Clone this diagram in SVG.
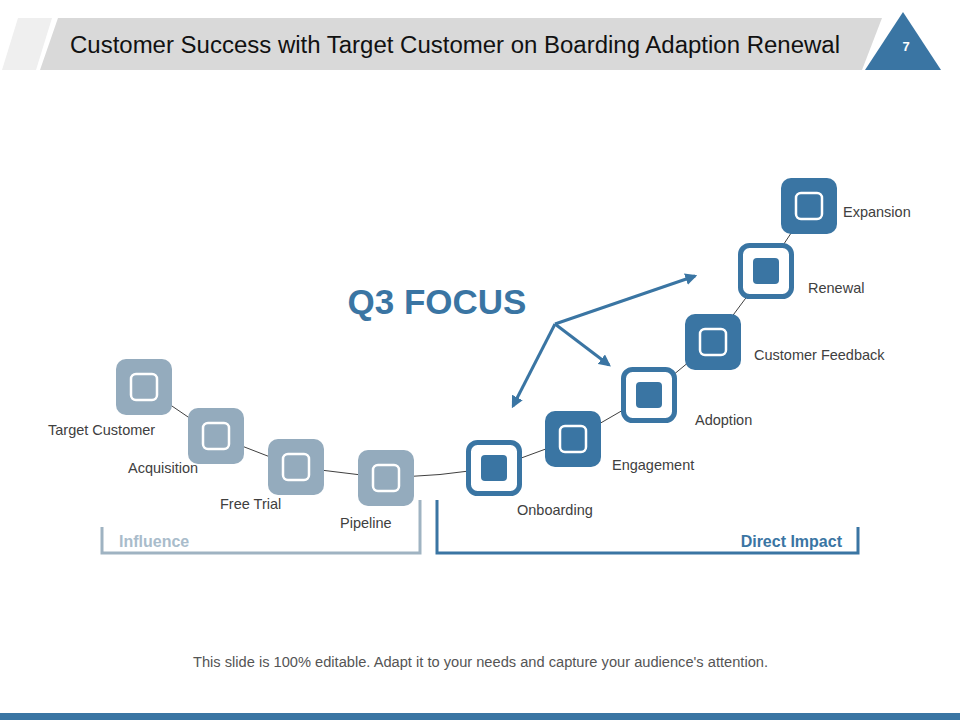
<svg xmlns="http://www.w3.org/2000/svg" width="960" height="720" viewBox="0 0 960 720">
<style>
  .lbl{font-family:"Liberation Sans",Arial,sans-serif;font-size:14.5px;fill:#404040}
  .gray{fill:#94abbd}
  .blue{fill:#3a75a3}
  .inW{fill:none;stroke:#ffffff;stroke-width:2.5}
  .ring{fill:#ffffff;stroke:#3a75a3;stroke-width:5}
  .link{fill:none;stroke:#404040;stroke-width:1}
  .arr{fill:none;stroke:#3a75a3;stroke-width:3}
</style>
<defs>
  <marker id="ah" viewBox="0 0 10 10" refX="8" refY="5" markerWidth="4" markerHeight="4" orient="auto" markerUnits="strokeWidth">
    <path d="M0,0 L10,5 L0,10 z" fill="#3a75a3"/>
  </marker>
</defs>
<rect width="960" height="720" fill="#ffffff"/>
<!-- header -->
<polygon points="18,18 52,18 36,70 2,70" fill="#efefef"/>
<polygon points="58,18 882,18 862,70 40,70" fill="#d9d9d9"/>
<text x="70" y="53" textLength="770" lengthAdjust="spacingAndGlyphs" font-family="'Liberation Sans',Arial,sans-serif" font-size="23.5" fill="#111111">Customer Success with Target Customer on Boarding Adaption Renewal</text>
<polygon points="903,12 941,70 865,70" fill="#3a75a3"/>
<text x="906" y="51" text-anchor="middle" font-family="'Liberation Sans',Arial,sans-serif" font-size="13" font-weight="bold" fill="#ffffff">7</text>

<!-- connectors -->
<g id="connectors">
  <path class="link" d="M144,387 L216,436 L296,467 L386,478 Q440,476 494,468 L573,439 L649,395 L713,342 L766,271 L809,206"/>
  <path class="arr" d="M555,324 L695,276" marker-end="url(#ah)"/>
  <path class="arr" d="M555,324 L609,365" marker-end="url(#ah)"/>
  <path class="arr" d="M555,324 L513,406" marker-end="url(#ah)"/>
</g>

<text x="437" y="314" text-anchor="middle" font-family="'Liberation Sans',Arial,sans-serif" font-size="35" font-weight="bold" fill="#3a75a3">Q3 FOCUS</text>

<g id="n-target">
  <rect class="gray" x="116" y="359" width="56" height="56" rx="10"/>
  <rect class="inW" x="131" y="374" width="26" height="26" rx="5"/>
  <text class="lbl" x="48" y="435">Target Customer</text>
</g>
<g id="n-acquisition">
  <rect class="gray" x="188" y="408" width="56" height="56" rx="10"/>
  <rect class="inW" x="203" y="423" width="26" height="26" rx="5"/>
  <text class="lbl" x="128" y="473">Acquisition</text>
</g>
<g id="n-freetrial">
  <rect class="gray" x="268" y="439" width="56" height="56" rx="10"/>
  <rect class="inW" x="283" y="454" width="26" height="26" rx="5"/>
  <text class="lbl" x="220" y="509">Free Trial</text>
</g>
<g id="n-pipeline">
  <rect class="gray" x="358" y="450" width="56" height="56" rx="10"/>
  <rect class="inW" x="373" y="465" width="26" height="26" rx="5"/>
  <text class="lbl" x="340" y="528">Pipeline</text>
</g>
<g id="n-onboarding">
  <rect class="ring" x="468.5" y="442.5" width="51" height="51" rx="9"/>
  <rect class="blue" x="481" y="455" width="26" height="26" rx="4"/>
  <text class="lbl" x="517" y="515">Onboarding</text>
</g>
<g id="n-engagement">
  <rect class="blue" x="545" y="411" width="56" height="56" rx="10"/>
  <rect class="inW" x="560" y="426" width="26" height="26" rx="5"/>
  <text class="lbl" x="612" y="470">Engagement</text>
</g>
<g id="n-adoption">
  <rect class="ring" x="623.5" y="369.5" width="51" height="51" rx="9"/>
  <rect class="blue" x="636" y="382" width="26" height="26" rx="4"/>
  <text class="lbl" x="695" y="425">Adoption</text>
</g>
<g id="n-feedback">
  <rect class="blue" x="685" y="314" width="56" height="56" rx="10"/>
  <rect class="inW" x="700" y="329" width="26" height="26" rx="5"/>
  <text class="lbl" x="754" y="360">Customer Feedback</text>
</g>
<g id="n-renewal">
  <rect class="ring" x="740.5" y="245.5" width="51" height="51" rx="9"/>
  <rect class="blue" x="753" y="258" width="26" height="26" rx="4"/>
  <text class="lbl" x="808" y="293">Renewal</text>
</g>
<g id="n-expansion">
  <rect class="blue" x="781" y="178" width="56" height="56" rx="10"/>
  <rect class="inW" x="796" y="193" width="26" height="26" rx="5"/>
  <text class="lbl" x="843" y="217">Expansion</text>
</g>

<!-- brackets -->
<g id="influence">
  <path d="M102,527 L102,553 L420,553 L420,500" fill="none" stroke="#9fb3c2" stroke-width="3"/>
  <text x="119" y="547" font-family="'Liberation Sans',Arial,sans-serif" font-size="16" font-weight="bold" fill="#a9bccb">Influence</text>
</g>
<g id="direct-impact">
  <path d="M437,500 L437,553 L858,553 L858,527" fill="none" stroke="#3a75a3" stroke-width="3"/>
  <text x="842" y="547" text-anchor="end" font-family="'Liberation Sans',Arial,sans-serif" font-size="16" font-weight="bold" fill="#3a75a3">Direct Impact</text>
</g>

<text x="193" y="667" textLength="575" lengthAdjust="spacingAndGlyphs" font-family="'Liberation Sans',Arial,sans-serif" font-size="14" fill="#555555">This slide is 100% editable.  Adapt it to your needs and capture your audience's attention.</text>
<rect x="0" y="713" width="960" height="7" fill="#3a75a3"/>
</svg>
